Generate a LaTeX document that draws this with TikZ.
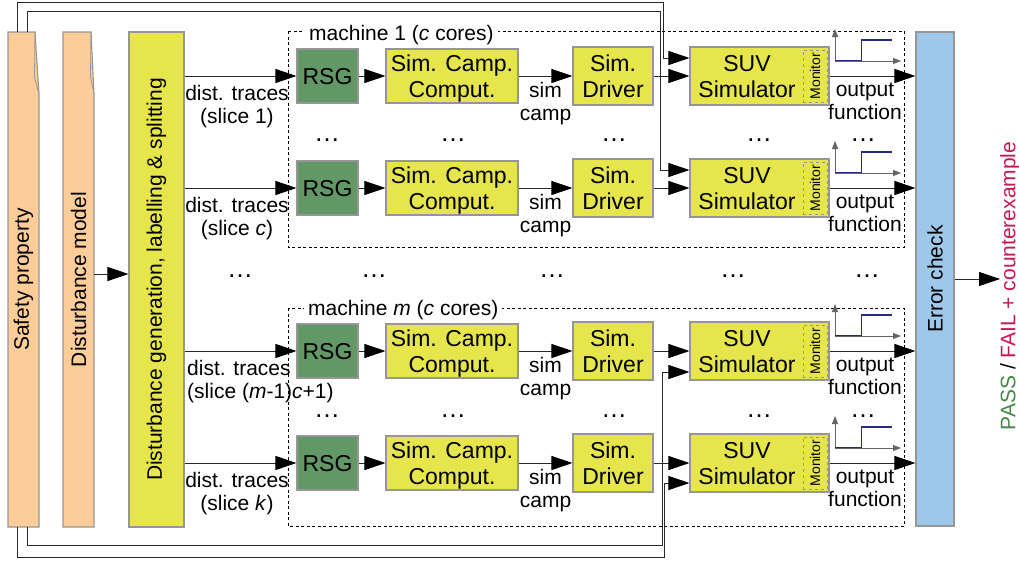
\documentclass[tikz,border=0pt]{standalone}
\usepackage{fontspec}
\setmainfont{Liberation Sans}
\usepackage{graphicx}
\usetikzlibrary{arrows.meta,calc}
\definecolor{peach}{RGB}{252,205,153}
\definecolor{rsggreen}{RGB}{98,152,102}
\definecolor{yel}{RGB}{230,230,76}
\definecolor{errblue}{RGB}{158,200,234}
\definecolor{boxgray}{RGB}{150,150,150}
\definecolor{linegray}{RGB}{40,40,40}
\definecolor{navy}{RGB}{40,40,135}
\definecolor{axgray}{RGB}{100,100,100}
\definecolor{passgreen}{RGB}{72,135,72}
\definecolor{failred}{RGB}{200,25,80}
\newcommand\bxfont{\fontsize{23}{26}\selectfont}
\newcommand\lbfont{\fontsize{21}{23}\selectfont}
\newcommand\mnfont{\fontsize{14}{16}\selectfont}
\newcommand\dtfont{\fontsize{26}{28}\selectfont}
\begin{document}
\begin{tikzpicture}[x=1pt,y=-1pt,
  box/.style={draw=boxgray,line width=1.1pt,inner sep=0pt,align=center,font=\bxfont,text depth=0pt},
  lbl/.style={font=\lbfont,align=center,inner sep=0pt,anchor=north},
  arr/.style={draw=linegray,line width=0.9pt,-{Triangle[length=21pt,width=14pt,color=black]}},
  axisarr/.style={draw=axgray,line width=0.9pt,-{Triangle[length=8pt,width=6pt]}},
  sigline/.style={draw=navy,line width=1.6pt},
  mbox/.style={draw=black,line width=0.9pt,dash pattern=on 3pt off 2.5pt},
  dts/.style={font=\dtfont,inner sep=0pt,anchor=base,text height=3pt,text depth=0pt},
  doc/.style={fill=peach,draw=boxgray,line width=1.1pt},
  fold/.style={draw=boxgray,line width=0.8pt},
  mlabel/.style={font=\lbfont,fill=white,inner xsep=4pt,inner ysep=1pt,anchor=base west}
]
\useasboundingbox (0,0) rectangle (1019,562);

% document shapes on the left
\path[doc] (8,32) -- (35,32) -- (39,94) -- (39,527) -- (8,527) -- cycle;
\draw[fold] (35,32) -- (34.5,77) -- (39,94);
\path[doc] (63,32) -- (91,32) -- (94,94) -- (94,527) -- (63,527) -- cycle;
\draw[fold] (91,32) -- (90.5,77) -- (94,94);
\node[inner sep=0pt,minimum width=31pt,minimum height=495pt] (sp) at (23.5,279.5) {\rotatebox{90}{\lbfont Safety property}};
\node[inner sep=0pt,minimum width=31pt,minimum height=495pt] (dm) at (78.5,279.5) {\rotatebox{90}{\lbfont Disturbance model}};
\node[box,fill=yel,minimum width=55pt,minimum height=495pt] (gen) at (156.5,279.5) {\rotatebox{90}{\lbfont Disturbance generation, labelling \& splitting}};
\draw[arr] (dm.east |- 0,274) -- (gen.west |- 0,274);

% machine boxes
\draw[mbox] (288,31) rectangle (904,247);
\draw[mbox] (288,308) rectangle (904,526);
\node[mlabel] at (305,40) {machine 1 (\textit{c} cores)};
\node[mlabel] at (304,315) {machine \textit{m} (\textit{c} cores)};

% error check and result
\node[draw=boxgray,line width=1.1pt,fill=errblue,minimum width=38pt,minimum height=494pt,inner sep=0pt] (err) at (935,279) {\rotatebox{90}{\lbfont Error check}};
\node[inner sep=0pt] (res) at (1010,286) {\rotatebox{90}{\lbfont\textcolor{passgreen}{PASS} / \textcolor{failred}{FAIL + counterexample}}};
\draw[arr] (err.east) -- (res.west |- err.east);

% rows
\foreach \r/\y in {1/76,2/188,3/351,4/463}{
  \node[box,fill=rsggreen,minimum width=61pt,minimum height=54pt] (rsg\r) at (327.5,\y) {RSG};
  \node[box,fill=yel,minimum width=132pt,minimum height=54pt] (comp\r) at (452,\y) {Sim. Camp.\\Comput.};
  \node[box,fill=yel,minimum width=80pt,minimum height=58pt] (drv\r) at (613,\y) {Sim.\\Driver};
  \node[box,fill=yel,minimum width=139pt,minimum height=58pt] (suv\r) at (759.5,\y) {};
  \node[font=\bxfont,align=center,inner sep=0pt,text depth=0pt] (suvt\r) at (747,\y) {SUV\\Simulator};
  \node[draw=boxgray,dashed,line width=0.8pt,minimum width=24pt,minimum height=52pt,inner sep=0pt] (mon\r) at (815,\y) {\rotatebox{90}{\mnfont Monitor}};
  \draw[arr] (gen.east |- rsg\r) -- (rsg\r.west);
  \draw[arr] (rsg\r) -- (comp\r);
  \draw[arr] (comp\r) -- (drv\r);
  \draw[arr] (drv\r) -- (suv\r);
  \draw[arr] (suv\r.east) -- (suv\r.east -| err.west);
  \node[lbl] at ($(comp\r.east)!0.5!(drv\r.west)+(0,6)$) {sim\\camp};
  \node[lbl] at (865,\y+7) {output\\function};
  % output plot
  \draw[axisarr] (835,\y-15) -- (835,\y-47);
  \draw[axisarr] (835,\y-15) -- (901,\y-15);
  \draw[sigline] (835,\y-15.5) -- (861.5,\y-15.5) -- (861.5,\y-36) -- (892,\y-36);
}

% distribution trace labels
\node[lbl] at (237,85) {dist. traces\\(slice 1)};
\node[lbl] at (237,197) {dist. traces\\(slice \textit{c})};
\node[lbl,anchor=north west,align=left] at (187,360) {dist. traces\\(slice (\textit{m}-1)\textit{c}+1)};
\node[lbl] at (237,472) {dist. traces\\(slice \textit{k})};

% safety property feedback lines
\coordinate (spa) at (17,32);
\coordinate (spb) at (27,32);
\coordinate (spc) at (27,527);
\coordinate (spd) at (17,527);
\draw[arr] (spa) -- (17,2) -- (663,2) -- (663,58) -- ($(suv1.west)+(0,-18)$);
\draw[arr] (spb) -- (27,11) -- (660,11) -- (660,170) -- ($(suv2.west)+(0,-18)$);
\draw[arr] (spc) -- (27,545) -- (662,545) -- (662,372) -- ($(suv3.west)+(0,21)$);
\draw[arr] (spd) -- (17,557) -- (664,557) -- (664,483) -- ($(suv4.west)+(0,20)$);

% ellipses
\foreach \x in {327,453,614,759,863}{
  \node[dts] at (\x,141) {…};
  \node[dts] at (\x,417) {…};
}
\foreach \x in {240,374,552,733,867}{
  \node[dts] at (\x,277) {…};
}
\end{tikzpicture}
\end{document}
